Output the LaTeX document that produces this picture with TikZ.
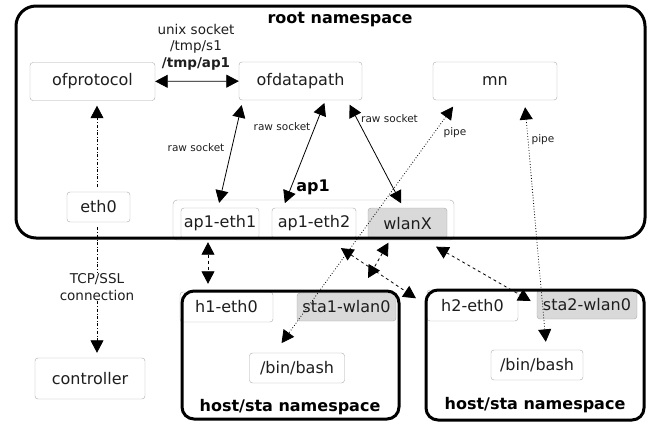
\documentclass[tikz,border=0pt]{standalone}
\usepackage{fontspec}
\setmainfont{DejaVu Sans}
\usetikzlibrary{arrows.meta}
\definecolor{boxgray}{HTML}{A8A8A8}
\definecolor{ifgray}{HTML}{D9D9D9}
\definecolor{txt}{HTML}{1E1E1E}
\tikzset{
  proc/.style={draw=boxgray,rounded corners=3pt,fill=white,text=txt,inner sep=0pt,font=\fontsize{16}{18}\selectfont},
  wiface/.style={proc,fill=ifgray},
  nsbox/.style={draw=black,line width=3pt,rounded corners=#1,inner sep=0pt},
  nslabel/.style={font=\fontsize{16}{18}\selectfont\bfseries,text=black},
  lbl/.style={font=\fontsize{13.5}{16.5}\selectfont,text=txt,align=center},
  smalllbl/.style={font=\fontsize{10.5}{12}\selectfont,text=txt},
  dbl/.style={{Triangle[length=12.5pt,width=13pt]}-{Triangle[length=12.5pt,width=13pt]}},
  link/.style={dbl,line width=0.8pt},
  veth/.style={dbl,dashed,line width=0.8pt},
  pipeline/.style={dbl,dotted,line width=0.8pt},
  ctrl/.style={-{Triangle[length=12.5pt,width=13pt]},dash dot,line width=0.8pt}
}
\begin{document}
\begin{tikzpicture}[x=1pt,y=-1pt]
\useasboundingbox (0,0) rectangle (654,424);
\node[proc,minimum width=125pt,minimum height=38pt] (ofprotocol) at (92.5,81.5) {ofprotocol};
\node[proc,minimum width=123pt,minimum height=38pt] (ofdatapath) at (300.5,81) {ofdatapath};
\node[proc,minimum width=124pt,minimum height=38pt] (mn) at (495,81) {mn};
\node[proc,minimum width=63pt,minimum height=30pt] (eth0) at (98.5,207) {eth0};
\node[proc,minimum width=110pt,minimum height=41pt] (controller) at (90,378.5) {controller};
\node[draw=boxgray,rounded corners=4pt,minimum width=281pt,minimum height=40pt] (ap1) at (313.5,220) {};
\node[nslabel] at (313,187) {ap1};
\node[proc,minimum width=78pt,minimum height=31pt] (ap1eth1) at (220,223.5) {ap1-eth1};
\node[proc,minimum width=84pt,minimum height=31pt] (ap1eth2) at (314,223.5) {ap1-eth2};
\node[wiface,minimum width=79pt,minimum height=31pt] (wlanX) at (407.5,223.5) {wlanX};
\node[nsbox=20pt,minimum width=629pt,minimum height=232pt] (root) at (330.5,122) {};
\node[nslabel] at (340,20) {root namespace};
\node[proc,minimum width=93pt,minimum height=30pt] (h1eth0) at (226.5,307) {h1-eth0};
\node[wiface,minimum width=99pt,minimum height=28pt] (sta1wlan0) at (346.5,307) {sta1-wlan0};
\node[proc,minimum width=95pt,minimum height=30pt] (bash1) at (297,368) {/bin/bash};
\node[nsbox=12pt,minimum width=217pt,minimum height=128pt] (h1) at (290.5,355) {};
\node[nslabel] at (290,407) {host/sta namespace};
\node[proc,minimum width=91pt,minimum height=31pt] (h2eth0) at (472.5,305.5) {h2-eth0};
\node[wiface,minimum width=100pt,minimum height=29pt] (sta2wlan0) at (587,304.5) {sta2-wlan0};
\node[proc,minimum width=92pt,minimum height=30pt] (bash2) at (537,365) {/bin/bash};
\node[nsbox=12pt,minimum width=218pt,minimum height=130pt] (h2) at (535,355) {};
\node[nslabel] at (535,405) {host/sta namespace};
\draw[link] (ofprotocol) edge (ofdatapath);
\node[lbl] at (196,47) {unix socket\\/tmp/s1\\\textbf{/tmp/ap1}};
\draw[ctrl,shorten <=5pt,shorten >=5pt] ([xshift=-1.5pt]eth0.north) -- ([xshift=-1.5pt]eth0.north |- ofprotocol.south);
\draw[ctrl,shorten <=5pt,shorten >=5pt] ([xshift=-1.5pt]eth0.south) -- ([xshift=-1.5pt]eth0.south |- controller.north);
\node[lbl,fill=white,inner sep=1pt] at (97,287) {TCP/SSL\\connection};
\draw[link,shorten <=5pt,shorten >=5pt] ([xshift=4pt]ofdatapath.south west) -- ([xshift=-2pt]ap1eth1.north);
\draw[link,shorten <=3pt,shorten >=5pt] ([xshift=25pt]ofdatapath.south) -- ([xshift=-31pt]ap1eth2.north);
\draw[link,shorten <=5pt,shorten >=5pt] ([xshift=-15pt]ofdatapath.south east) -- ([xshift=-4pt]wlanX.north);
\node[smalllbl] at (196,148) {raw socket};
\node[smalllbl] at (282,127) {raw socket};
\node[smalllbl] at (389.5,119) {raw socket};
\draw[veth,shorten <=3pt,shorten >=8pt] ([xshift=-12pt]ap1eth1.south) -- ([xshift=-18.5pt]h1eth0.north);
\draw[veth,shorten <=16pt,shorten >=13pt] ([xshift=13.5pt]ap1eth2.south) -- (h2eth0.west);
\draw[veth,shorten <=4pt,shorten >=17pt] ([xshift=-17pt]wlanX.south) -- ([xshift=13pt]sta1wlan0.north);
\draw[veth,shorten <=15pt,shorten >=7pt] ([xshift=15.5pt]wlanX.south) -- (sta2wlan0.west);
\draw[pipeline,shorten <=8pt,shorten >=12pt] ([xshift=25pt]mn.south west) -- ([xshift=-22.5pt]bash1.north);
\draw[pipeline,shorten <=7pt,shorten >=8pt] ([xshift=29.5pt]mn.south) -- ([xshift=9.5pt]bash2.north);
\node[smalllbl] at (455,133) {pipe};
\node[smalllbl] at (543,140) {pipe};
\end{tikzpicture}
\end{document}
